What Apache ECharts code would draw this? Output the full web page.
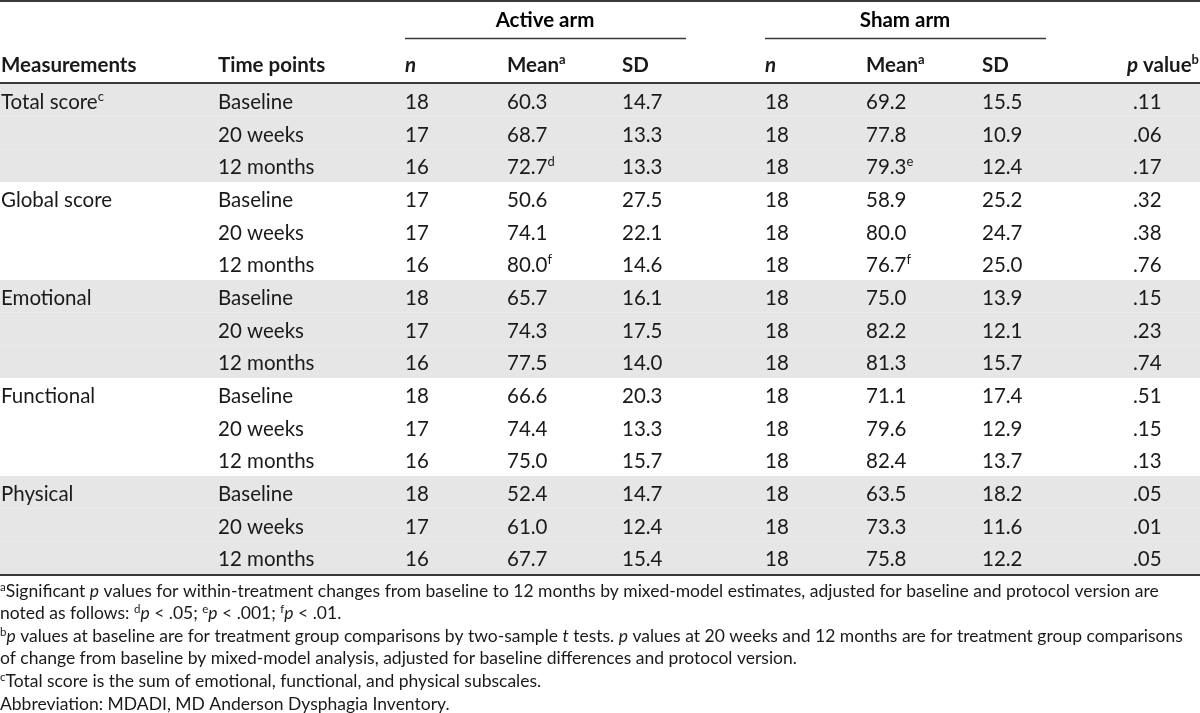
<!DOCTYPE html>
<html><head><meta charset="utf-8">
<script src="https://cdn.jsdelivr.net/npm/echarts@6/dist/echarts.min.js"></script>
<style>html,body{margin:0;padding:0;background:#fff}#c{width:1200px;height:713px}</style>
</head><body><div id="c"></div>
<script>
// ---- data ----
const measurements = ['Total score', 'Global score', 'Emotional', 'Functional', 'Physical'];
const measurementNotes = ['c', '', '', '', ''];
const timePoints = ['Baseline', '20 weeks', '12 months'];
const activeN = [18,17,16, 17,17,16, 18,17,16, 18,17,16, 18,17,16];
const activeMean = [60.3,68.7,72.7, 50.6,74.1,80.0, 65.7,74.3,77.5, 66.6,74.4,75.0, 52.4,61.0,67.7];
const activeMeanNotes = ['','','d', '','','f', '','','', '','','', '','',''];
const activeSD = [14.7,13.3,13.3, 27.5,22.1,14.6, 16.1,17.5,14.0, 20.3,13.3,15.7, 14.7,12.4,15.4];
const shamN = [18,18,18, 18,18,18, 18,18,18, 18,18,18, 18,18,18];
const shamMean = [69.2,77.8,79.3, 58.9,80.0,76.7, 75.0,82.2,81.3, 71.1,79.6,82.4, 63.5,73.3,75.8];
const shamMeanNotes = ['','','e', '','','f', '','','', '','','', '','',''];
const shamSD = [15.5,10.9,12.4, 25.2,24.7,25.0, 13.9,12.1,15.7, 17.4,12.9,13.7, 18.2,11.6,12.2];
const pValues = ['.11','.06','.17', '.32','.38','.76', '.15','.23','.74', '.51','.15','.13', '.05','.01','.05'];
const footnotes = [
  '{sup|a}Significant {i|p} values for within-treatment changes from baseline to 12 months by mixed-model estimates, adjusted for baseline and protocol version are',
  'noted as follows: {sup|d}{i|p} < .05; {sup|e}{i|p} < .001; {sup|f}{i|p} < .01.',
  '{sup|b}{i|p} values at baseline are for treatment group comparisons by two-sample {i|t} tests. {i|p} values at 20 weeks and 12 months are for treatment group comparisons',
  'of change from baseline by mixed-model analysis, adjusted for baseline differences and protocol version.',
  '{sup|c}Total score is the sum of emotional, functional, and physical subscales.',
  'Abbreviation: MDADI, MD Anderson Dysphagia Inventory.'
];

// ---- layout ----
const FONT = 'Lato';
const TXT = '#1a1a1a';
const SHADE = '#e6e6e6';
const LINE = '#3a3a3a';
const FS = 20.5;
const FFS = 17.5;
const COL = { meas: 1, time: 218, an: 405, am: 507, asd: 622, sn: 765, sm: 866, ssd: 982, p: 1133, pRight: 1199 };

const rows = activeN.map((_, i) => i);
const rowLabels = rows.map(i => String(i));

const rich = {
  b: { fontFamily: FONT, fontWeight: 'bold', fontSize: FS, color: TXT, lineHeight: 24 },
  bi: { fontFamily: FONT, fontWeight: 'bold', fontStyle: 'italic', fontSize: FS, color: TXT, lineHeight: 24 },
  n: { fontFamily: FONT, fontSize: FS, color: TXT, lineHeight: 24 },
  bsup: { fontFamily: FONT, fontWeight: 'bold', fontSize: 13, color: TXT, verticalAlign: 'top', lineHeight: 24 },
  sup: { fontFamily: FONT, fontSize: 13, color: TXT, verticalAlign: 'top', lineHeight: 24 }
};
const fRich = {
  sup: { fontFamily: FONT, fontSize: 11.5, color: TXT, verticalAlign: 'top', lineHeight: 20 },
  i: { fontFamily: FONT, fontSize: FFS, fontStyle: 'italic', color: TXT, lineHeight: 20 }
};

function cellText(x, y, text, align) {
  return { type: 'text', x: x, y: y + 2, style: { text: text, rich: rich, fontFamily: FONT, fontSize: FS, fill: TXT, align: align || 'left', verticalAlign: 'middle' } };
}

function renderItem(params, api) {
  const r = api.value(0);
  const c = api.coord([0, r]);
  const bandH = api.size([0, 1])[1];
  const y = c[1];
  const x = (v) => api.coord([v, r])[0];
  const g = Math.floor(r / 3), t = r % 3;
  const children = [];
  if (g % 2 === 0) {
    const x0 = x(0), x1 = x(1200);
    children.push({ type: 'rect', shape: { x: x0, y: y - bandH / 2, width: x1 - x0, height: bandH }, style: { fill: SHADE } });
  }
  if (t === 0) {
    children.push(cellText(x(COL.meas), y, '{n|' + measurements[g] + '}' + (measurementNotes[g] ? '{sup|' + measurementNotes[g] + '}' : '')));
  }
  children.push(cellText(x(COL.time), y, '{n|' + timePoints[t] + '}'));
  children.push(cellText(x(COL.an), y, '{n|' + activeN[r] + '}'));
  children.push(cellText(x(COL.am), y, '{n|' + activeMean[r].toFixed(1) + '}' + (activeMeanNotes[r] ? '{sup|' + activeMeanNotes[r] + '}' : '')));
  children.push(cellText(x(COL.asd), y, '{n|' + activeSD[r].toFixed(1) + '}'));
  children.push(cellText(x(COL.sn), y, '{n|' + shamN[r] + '}'));
  children.push(cellText(x(COL.sm), y, '{n|' + shamMean[r].toFixed(1) + '}' + (shamMeanNotes[r] ? '{sup|' + shamMeanNotes[r] + '}' : '')));
  children.push(cellText(x(COL.ssd), y, '{n|' + shamSD[r].toFixed(1) + '}'));
  children.push(cellText(x(COL.p), y, '{n|' + pValues[r] + '}'));
  return { type: 'group', children: children };
}

const HY = 65;
function hText(x, text, align) {
  return { type: 'text', x: x, y: HY, style: { text: text, rich: rich, fontFamily: FONT, fontSize: FS, fill: TXT, align: align || 'left', verticalAlign: 'middle' } };
}
function hLine(x1, x2, y, w) {
  return { type: 'line', shape: { x1: x1, y1: y, x2: x2, y2: y }, style: { stroke: LINE, lineWidth: w } };
}

const graphics = [
  hLine(0, 1200, 1, 2),
  { type: 'text', x: 545, y: 20, style: { text: '{b|Active arm}', rich: rich, align: 'center', verticalAlign: 'middle' } },
  { type: 'text', x: 905, y: 20, style: { text: '{b|Sham arm}', rich: rich, align: 'center', verticalAlign: 'middle' } },
  hLine(405, 686, 38.5, 1.5),
  hLine(765, 1046, 38.5, 1.5),
  hText(COL.meas, '{b|Measurements}'),
  hText(COL.time, '{b|Time points}'),
  hText(COL.an, '{bi|n}'),
  hText(COL.am, '{b|Mean}{bsup|a}'),
  hText(COL.asd, '{b|SD}'),
  hText(COL.sn, '{bi|n}'),
  hText(COL.sm, '{b|Mean}{bsup|a}'),
  hText(COL.ssd, '{b|SD}'),
  hText(COL.pRight, '{bi|p}{b| value}{bsup|b}', 'right'),
  hLine(0, 1200, 83, 2),
  hLine(0, 1200, 575, 2)
];
footnotes.forEach((f, i) => {
  graphics.push({ type: 'text', x: 0, y: 591 + i * 22.6, style: { text: f, rich: fRich, fontFamily: FONT, fontSize: FFS, fill: TXT, align: 'left', verticalAlign: 'middle' } });
});

const chart = echarts.init(document.getElementById('c'), null, { renderer: 'canvas' });
chart.setOption({
  animation: false,
  grid: { left: 0, right: 0, top: 84, bottom: 139 },
  xAxis: { type: 'value', min: 0, max: 1200, show: false },
  yAxis: { type: 'category', data: rowLabels, inverse: true, show: false },
  series: [{
    type: 'custom',
    renderItem: renderItem,
    data: rows.map(r => [r]),
    encode: { y: 0 },
    z: 1
  }],
  graphic: graphics
});
</script>
</body></html>
